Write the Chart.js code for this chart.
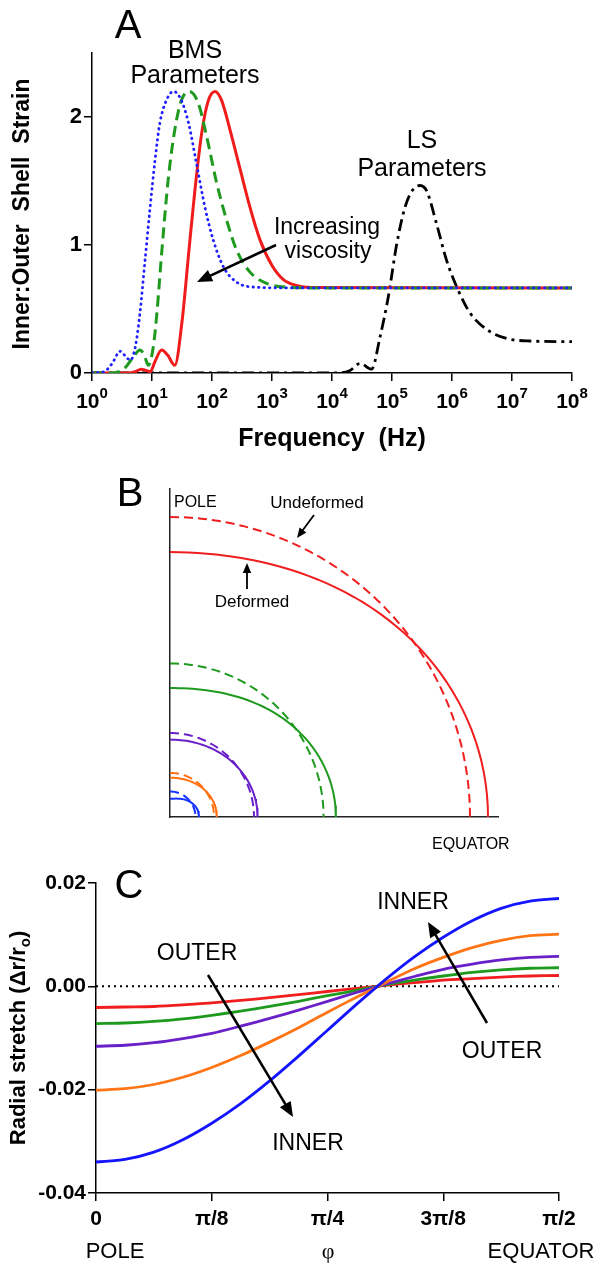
<!DOCTYPE html>
<html>
<head>
<meta charset="utf-8">
<title>Shell strain and radial stretch</title>
<script src="https://cdn.jsdelivr.net/npm/chart.js@4.4.1/dist/chart.umd.min.js"></script>
<style>
  body { margin: 0; background: #fff; }
  #wrap { position: relative; width: 600px; height: 1268px; }
  canvas { position: absolute; left: 0; }
</style>
</head>
<body>
<div id="wrap">
  <canvas id="chartA" width="600" height="460" style="top:0px"></canvas>
  <canvas id="chartB" width="600" height="400" style="top:460px"></canvas>
  <canvas id="chartC" width="600" height="408" style="top:860px"></canvas>
</div>
<script>
const FONT = '"Liberation Sans", Arial, sans-serif';

// ---- A: inner:outer shell strain against frequency ----
// frequencies are stored as log10(f / Hz)
const decadeTicks = [0, 1, 2, 3, 4, 5, 6, 7, 8];
const strainTicks = [0, 1, 2];

// BMS parameters, lowest viscosity (red, solid)
const bmsLowViscLogF = [0, 0.6, 0.72, 0.82, 0.9, 0.97, 1.05, 1.16, 1.26, 1.38, 1.5, 1.62, 1.72, 1.83, 1.94, 2.05, 2.16, 2.3, 2.47, 2.63, 2.8, 3.0, 3.19, 3.4, 3.65, 8];
const bmsLowViscStrain = [0, 0, 0.01, 0.03, 0.02, 0.01, 0.09, 0.18, 0.14, 0.06, 0.4, 0.98, 1.45, 1.88, 2.13, 2.2, 2.13, 1.9, 1.59, 1.3, 1.04, 0.84, 0.73, 0.685, 0.668, 0.665];

// middle viscosity (green, dashed)
const bmsMidViscLogF = [0, 0.3, 0.45, 0.55, 0.68, 0.8, 0.87, 0.94, 1.02, 1.08, 1.16, 1.27, 1.38, 1.49, 1.62, 1.77, 1.91, 2.08, 2.24, 2.41, 2.63, 2.91, 3.24, 3.6, 8];
const bmsMidViscStrain = [0, 0, 0.01, 0.04, 0.12, 0.18, 0.14, 0.06, 0.2, 0.46, 0.93, 1.51, 1.9, 2.13, 2.2, 2.11, 1.85, 1.48, 1.2, 0.96, 0.79, 0.7, 0.67, 0.665, 0.665];

// highest viscosity (blue, dotted)
const bmsHighViscLogF = [0, 0.2, 0.33, 0.47, 0.56, 0.64, 0.72, 0.8, 0.88, 0.97, 1.05, 1.13, 1.24, 1.36, 1.49, 1.61, 1.74, 1.88, 2.02, 2.19, 2.41, 2.74, 3.2, 8];
const bmsHighViscStrain = [0, 0.01, 0.07, 0.17, 0.13, 0.1, 0.2, 0.47, 0.86, 1.3, 1.66, 1.95, 2.13, 2.2, 2.13, 1.95, 1.64, 1.3, 1.04, 0.83, 0.71, 0.67, 0.665, 0.665];

// LS parameters (black, dash-dot)
const lsLogF = [0, 4.1, 4.3, 4.47, 4.66, 4.8, 4.94, 5.08, 5.22, 5.36, 5.47, 5.58, 5.74, 5.91, 6.1, 6.3, 6.58, 6.91, 7.3, 8];
const lsStrain = [0, 0, 0.02, 0.075, 0.03, 0.28, 0.6, 1.01, 1.3, 1.44, 1.465, 1.42, 1.17, 0.88, 0.65, 0.47, 0.34, 0.27, 0.25, 0.245];

// ---- B: shell outlines, radii in units of the outer undeformed radius ----
const shellColors = ['#f01e1e', '#1e9a1e', '#6a20c8', '#ff7212', '#1632ff'];
const restRadius = [1.0, 0.512, 0.28, 0.147, 0.085];
const deformedPolarRadius = [0.883, 0.43, 0.258, 0.131, 0.061];
const deformedEquatorRadius = [1.06, 0.553, 0.292, 0.156, 0.097];

// ---- C: radial stretch against polar angle (phi in units of pi/8) ----
const phiSteps = [0, 0.25, 0.5, 0.75, 1, 1.25, 1.5, 1.75, 2, 2.25, 2.5, 2.75, 3, 3.25, 3.5, 3.75, 4];
const phiTickLabels = ['0', 'π/8', 'π/4', '3π/8', 'π/2'];
const stretchTicks = [0.02, 0, -0.02, -0.04];
const stretchOuter = [-0.0041, -0.0040, -0.0039, -0.0036, -0.0032, -0.0027, -0.0022, -0.0016, -0.0010, -0.0004, 0.0002, 0.0007, 0.0012, 0.0015, 0.0018, 0.0020, 0.0021];
const stretchShell2 = [-0.0072, -0.0071, -0.0068, -0.0063, -0.0056, -0.0048, -0.0039, -0.0029, -0.0018, -0.0008, 0.0003, 0.0012, 0.0020, 0.0027, 0.0032, 0.0035, 0.0036];
const stretchShell3 = [-0.0116, -0.0114, -0.0109, -0.0101, -0.0091, -0.0077, -0.0062, -0.0046, -0.0029, -0.0012, 0.0004, 0.0019, 0.0033, 0.0043, 0.0051, 0.0056, 0.0058];
const stretchShell4 = [-0.0201, -0.0198, -0.0190, -0.0176, -0.0157, -0.0134, -0.0108, -0.0080, -0.0050, -0.0021, 0.0007, 0.0034, 0.0056, 0.0075, 0.0089, 0.0098, 0.0101];
const stretchInner = [-0.0340, -0.0335, -0.0321, -0.0297, -0.0265, -0.0227, -0.0183, -0.0135, -0.0085, -0.0035, 0.0013, 0.0057, 0.0095, 0.0127, 0.0151, 0.0165, 0.0170];

Chart.defaults.font.family = FONT;
Chart.defaults.color = '#000';

function text(ctx, str, x, y, font, align, baseline) {
  ctx.save();
  ctx.font = font;
  ctx.fillStyle = '#000';
  ctx.textAlign = align || 'center';
  ctx.textBaseline = baseline || 'alphabetic';
  ctx.fillText(str, x, y);
  ctx.restore();
}

function arrow(ctx, x1, y1, x2, y2, width, head) {
  const a = Math.atan2(y2 - y1, x2 - x1);
  const c = Math.cos(a), s = Math.sin(a);
  ctx.save();
  ctx.strokeStyle = '#000';
  ctx.fillStyle = '#000';
  ctx.lineWidth = width;
  ctx.beginPath();
  ctx.moveTo(x1, y1);
  ctx.lineTo(x2 - head * 0.8 * c, y2 - head * 0.8 * s);
  ctx.stroke();
  ctx.beginPath();
  ctx.moveTo(x2, y2);
  ctx.lineTo(x2 - head * c + head * 0.42 * s, y2 - head * s - head * 0.42 * c);
  ctx.lineTo(x2 - head * c - head * 0.42 * s, y2 - head * s + head * 0.42 * c);
  ctx.closePath();
  ctx.fill();
  ctx.restore();
}

function fixedTicks(values) {
  return scale => { scale.ticks = values.map(v => ({ value: v })); };
}

const baseOptions = {
  responsive: false,
  animation: false,
  devicePixelRatio: 1,
  events: [],
  plugins: { legend: { display: false }, tooltip: { enabled: false } },
  elements: { point: { radius: 0 } }
};

// ---------- A ----------
function decadeSeries(logF, values) {
  return logF.map((d, i) => ({ x: Math.pow(10, d), y: values[i] }));
}

const panelAText = {
  id: 'panelAText',
  afterDraw(chart) {
    const ctx = chart.ctx;
    const xs = chart.scales.x;
    // decade labels with raised exponent
    decadeTicks.forEach(d => {
      const px = xs.getPixelForValue(Math.pow(10, d));
      ctx.save();
      ctx.font = 'bold 21px ' + FONT;
      const wBase = ctx.measureText('10').width;
      ctx.font = 'bold 15px ' + FONT;
      const wExp = ctx.measureText(String(d)).width;
      ctx.restore();
      const left = px - (wBase + wExp) / 2;
      text(ctx, '10', left, 408, 'bold 21px ' + FONT, 'left');
      text(ctx, String(d), left + wBase, 398, 'bold 15px ' + FONT, 'left');
    });
    text(ctx, 'Frequency  (Hz)', 332, 446, 'bold 25px ' + FONT);

    ctx.save();
    ctx.translate(23, 214);
    ctx.rotate(-Math.PI / 2);
    text(ctx, 'Inner:Outer  Shell  Strain', 0, 0, 'bold 23px ' + FONT, 'center', 'middle');
    ctx.restore();

    text(ctx, 'A', 128, 38, '40px ' + FONT);
    text(ctx, 'BMS', 195, 58, '25px ' + FONT);
    text(ctx, 'Parameters', 195, 83, '25px ' + FONT);
    text(ctx, 'LS', 422, 148, '25px ' + FONT);
    text(ctx, 'Parameters', 422, 176, '25px ' + FONT);
    text(ctx, 'Increasing', 327, 234, '23px ' + FONT);
    text(ctx, 'viscosity', 328, 258, '23px ' + FONT);
    arrow(ctx, 276, 245, 197, 282, 2.5, 15);
  }
};

new Chart(document.getElementById('chartA'), {
  type: 'line',
  data: {
    datasets: [
      { data: decadeSeries(bmsHighViscLogF, bmsHighViscStrain), borderColor: '#1f1fff', borderWidth: 2.8, borderDash: [0.5, 5], borderCapStyle: 'round', cubicInterpolationMode: 'monotone' },
      { data: decadeSeries(bmsMidViscLogF, bmsMidViscStrain), borderColor: '#1f9a1f', borderWidth: 3, borderDash: [11, 6], cubicInterpolationMode: 'monotone' },
      { data: decadeSeries(bmsLowViscLogF, bmsLowViscStrain), borderColor: '#f01c1c', borderWidth: 3, cubicInterpolationMode: 'monotone' },
      { data: decadeSeries(lsLogF, lsStrain), borderColor: '#000', borderWidth: 2.8, borderDash: [12, 5, 3, 5], cubicInterpolationMode: 'monotone' }
    ]
  },
  options: {
    ...baseOptions,
    layout: { padding: { top: 53, right: 28, left: 0, bottom: 0 } },
    scales: {
      x: {
        type: 'logarithmic', min: 1, max: 1e8,
        afterBuildTicks: fixedTicks(decadeTicks.map(d => Math.pow(10, d))),
        afterFit: s => { s.height = 87; },
        ticks: { display: false },
        grid: { drawOnChartArea: false, drawTicks: true, tickLength: 8, color: '#000', lineWidth: 1.5 },
        border: { color: '#000', width: 1.5 }
      },
      y: {
        type: 'linear', min: 0, max: 2.5,
        afterBuildTicks: fixedTicks(strainTicks),
        afterFit: s => { s.width = 92; },
        ticks: { font: { size: 22, weight: 'bold' }, padding: 2, color: '#000' },
        grid: { drawOnChartArea: false, drawTicks: true, tickLength: 8, color: '#000', lineWidth: 1.5 },
        border: { color: '#000', width: 1.5 }
      }
    }
  },
  plugins: [panelAText]
});

// ---------- B ----------
// outline of one quarter shell; pole radius rp, equatorial radius re
function shellOutline(rp, re) {
  const pts = [];
  for (let deg = 0; deg <= 90; deg += 2) {
    const t = deg * Math.PI / 180;
    const r = re + (rp - re) * Math.cos(t) * Math.cos(t);
    pts.push({ x: r * Math.sin(t), y: r * Math.cos(t) });
  }
  return pts;
}

const shellDatasets = [];
shellColors.forEach((color, i) => {
  shellDatasets.push({ data: shellOutline(restRadius[i], restRadius[i]), borderColor: color, borderWidth: 2, borderDash: [9, 5], showLine: true, tension: 0 });
  shellDatasets.push({ data: shellOutline(deformedPolarRadius[i], deformedEquatorRadius[i]), borderColor: color, borderWidth: 2, showLine: true, tension: 0 });
});

const panelBText = {
  id: 'panelBText',
  afterDraw(chart) {
    const ctx = chart.ctx;
    text(ctx, 'B', 130, 46, '40px ' + FONT);
    text(ctx, 'POLE', 174, 47, '16px ' + FONT, 'left');
    text(ctx, 'EQUATOR', 432, 389, '16px ' + FONT, 'left');
    text(ctx, 'Undeformed', 317, 48, '17px ' + FONT);
    text(ctx, 'Deformed', 252, 147, '17px ' + FONT);
    arrow(ctx, 314, 55, 297, 78, 1.8, 10);
    arrow(ctx, 247, 129, 247, 103, 1.8, 10);
  }
};

new Chart(document.getElementById('chartB'), {
  type: 'scatter',
  data: { datasets: shellDatasets },
  options: {
    ...baseOptions,
    layout: { padding: { top: 29, right: 102, left: 0, bottom: 0 } },
    scales: {
      x: {
        type: 'linear', min: 0, max: 1.0933,
        afterFit: s => { s.height = 43; },
        ticks: { display: false },
        grid: { display: false },
        border: { color: '#222', width: 1.5 }
      },
      y: {
        type: 'linear', min: 0, max: 1.0933,
        afterFit: s => { s.width = 170; },
        ticks: { display: false },
        grid: { display: false },
        border: { color: '#222', width: 1.5 }
      }
    }
  },
  plugins: [panelBText]
});

// ---------- C ----------
function phiSeries(values) {
  return phiSteps.map((p, i) => ({ x: p, y: values[i] }));
}

const panelCText = {
  id: 'panelCText',
  afterDraw(chart) {
    const ctx = chart.ctx;
    text(ctx, 'C', 129, 38, '40px ' + FONT);

    // y title with subscript o
    ctx.save();
    ctx.translate(17, 178);
    ctx.rotate(-Math.PI / 2);
    const main = 'Radial stretch (Δr/r';
    ctx.font = 'bold 22px ' + FONT;
    const wMain = ctx.measureText(main).width;
    ctx.font = 'bold 15px ' + FONT;
    const wSub = ctx.measureText('o').width;
    ctx.font = 'bold 22px ' + FONT;
    const wEnd = ctx.measureText(')').width;
    const x0 = -(wMain + wSub + wEnd) / 2;
    text(ctx, main, x0, 8, 'bold 22px ' + FONT, 'left');
    text(ctx, 'o', x0 + wMain, 13, 'bold 15px ' + FONT, 'left');
    text(ctx, ')', x0 + wMain + wSub, 8, 'bold 22px ' + FONT, 'left');
    ctx.restore();

    text(ctx, 'POLE', 115, 398, '22px ' + FONT);
    text(ctx, 'φ', 328, 398, '22px "Liberation Serif", serif');
    text(ctx, 'EQUATOR', 541, 398, '22px ' + FONT);

    text(ctx, 'OUTER', 197, 100, '23px ' + FONT);
    text(ctx, 'INNER', 308, 290, '23px ' + FONT);
    text(ctx, 'INNER', 413, 49, '23px ' + FONT);
    text(ctx, 'OUTER', 502, 198, '23px ' + FONT);
    arrow(ctx, 208, 115, 293, 257, 2.5, 15);
    arrow(ctx, 487, 163, 428, 62, 2.5, 15);
  }
};

new Chart(document.getElementById('chartC'), {
  type: 'line',
  data: {
    datasets: [
      { data: phiSeries(stretchInner), borderColor: '#1414ff', borderWidth: 2.8, tension: 0.3 },
      { data: phiSeries(stretchShell4), borderColor: '#ff7414', borderWidth: 2.8, tension: 0.3 },
      { data: phiSeries(stretchShell3), borderColor: '#6a20c8', borderWidth: 2.8, tension: 0.3 },
      { data: phiSeries(stretchShell2), borderColor: '#1e9a1e', borderWidth: 2.8, tension: 0.3 },
      { data: phiSeries(stretchOuter), borderColor: '#f01e1e', borderWidth: 2.8, tension: 0.3 },
      { data: [{ x: phiSteps[0], y: 0 }, { x: phiSteps[phiSteps.length - 1], y: 0 }], borderColor: '#000', borderWidth: 2, borderDash: [2, 4] }
    ]
  },
  options: {
    ...baseOptions,
    layout: { padding: { top: 23, right: 41, left: 0, bottom: 0 } },
    scales: {
      x: {
        type: 'linear', min: 0, max: 4,
        afterBuildTicks: fixedTicks([0, 1, 2, 3, 4]),
        afterFit: s => { s.height = 75; },
        ticks: { callback: (v, i) => phiTickLabels[i], font: { size: 21, weight: 'bold' }, padding: 6, color: '#000', maxRotation: 0 },
        grid: { drawOnChartArea: false, drawTicks: true, tickLength: 8, color: '#000', lineWidth: 1.5 },
        border: { color: '#000', width: 1.5 }
      },
      y: {
        type: 'linear', min: -0.04, max: 0.02,
        afterBuildTicks: fixedTicks(stretchTicks),
        afterFit: s => { s.width = 96; },
        ticks: { callback: v => v.toFixed(2), font: { size: 21, weight: 'bold' }, padding: 2, color: '#000' },
        grid: { drawOnChartArea: false, drawTicks: true, tickLength: 8, color: '#000', lineWidth: 1.5 },
        border: { color: '#000', width: 1.5 }
      }
    }
  },
  plugins: [panelCText]
});
</script>
</body>
</html>
